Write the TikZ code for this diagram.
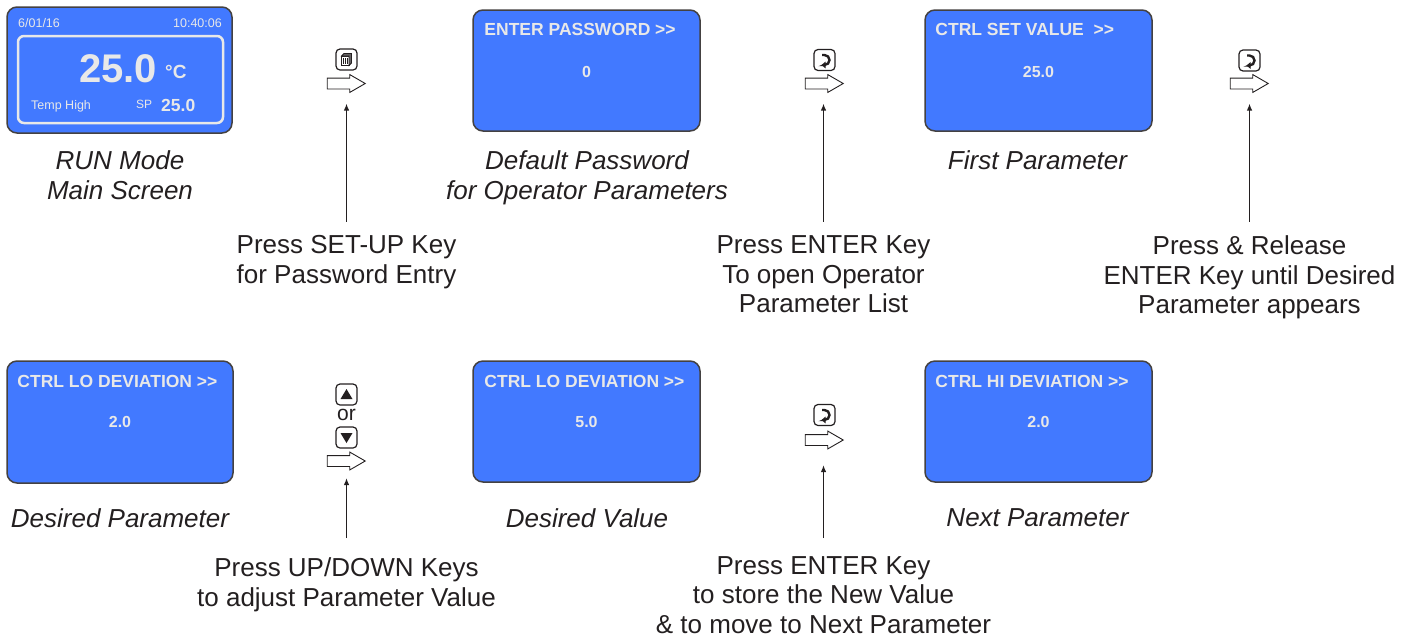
\documentclass[tikz,border=0pt]{standalone}
\usepackage{fontspec}
\setmainfont{Liberation Sans}
\usetikzlibrary{shapes.arrows,arrows.meta,positioning}

\definecolor{screenblue}{RGB}{66,121,255}
\definecolor{screenink}{RGB}{232,232,232}
\definecolor{ink}{RGB}{35,31,32}

\tikzset{
  screen/.style={draw=ink!85, line width=1.5pt, fill=screenblue, rounded corners=10pt,
    minimum width=227pt, minimum height=121pt, inner sep=0pt},
  screentitle/.style={text=screenink, font=\bfseries\fontsize{17.5}{20}\selectfont, anchor=west, inner sep=0pt},
  screenvalue/.style={text=screenink, font=\bfseries\fontsize{16}{18}\selectfont, inner sep=0pt},
  screensmall/.style={text=screenink, font=\fontsize{12.5}{14}\selectfont, inner sep=0pt},
  caption/.style={text=ink, font=\itshape\fontsize{26}{30}\selectfont, align=center, anchor=north, inner sep=0pt},
  hint/.style={text=ink, font=\fontsize{26}{29.7}\selectfont, align=center, anchor=north, inner sep=0pt},
  key/.style={draw=ink, line width=1.2pt, rounded corners=4pt, minimum size=21pt, inner sep=0pt},
  nextarrow/.style={single arrow, draw=ink, line width=0.9pt, fill=white, minimum height=38pt,
    inner xsep=0pt, inner ysep=5pt, single arrow head extend=3.5pt, single arrow tip angle=60},
  hintline/.style={draw=ink, line width=1.4pt, -{Latex[length=7pt,width=5.5pt]}},
  enterglyph/.pic={
    \draw[ink, line width=2.4pt, -{Triangle[length=4pt,width=6.5pt]}]
      (-2.5,-5) -- (0,-5) arc[start angle=-90, end angle=90, radius=5] -- (-3,5);
  },
  setupglyph/.pic={
    \draw[ink, line width=0.8pt, fill=white] (-5,-3.5) rectangle (2.5,6);
    \draw[ink, line width=0.8pt, fill=ink!70] (-5,-3.5) -- (-2.5,-6) -- (5,-6) -- (5,3.5) -- (2.5,6) -- (2.5,-3.5) -- cycle;
    \foreach \gx in {-3,-1.25,0.5}
      \draw[ink, line width=0.8pt] (\gx,-1.5) -- (\gx,4.5);
  },
  upglyph/.pic={\fill[ink] (-6,4.5) -- (6,4.5) -- (0,-5.5) -- cycle;},
  downglyph/.pic={\fill[ink] (-6,-4.5) -- (6,-4.5) -- (0,5.5) -- cycle;}
}

\begin{document}
\begin{tikzpicture}[x=1pt, y=-1pt]
\useasboundingbox (0,0) rectangle (1416,641);

% top row of screens
\node (run_screen) [screen, minimum width=225pt, minimum height=126pt] at (119.5,70) {};
\node (run_frame) [draw=screenink, line width=2.5pt, rounded corners=6pt,
  minimum width=205pt, minimum height=87pt] at (120.5,79.5) {};
\node (run_date) [screensmall, anchor=base west] at (18,27) {6/01/16};
\node (run_time) [screensmall, anchor=base east] at (222,27) {10:40:06};
\node (run_temp) [text=screenink, font=\bfseries\fontsize{40}{40}\selectfont, anchor=base west, inner sep=0pt] at (79,82) {25.0};
\node (run_unit) [text=screenink, font=\bfseries\fontsize{19}{20}\selectfont, anchor=base west, inner sep=0pt] at (165,78) {°C};
\node (run_status) [screensmall, anchor=base west] at (31,109.5) {Temp High};
\node (run_sp) [screensmall, font=\fontsize{12}{14}\selectfont, anchor=base west] at (136,108.7) {SP};
\node (run_spvalue) [text=screenink, font=\bfseries\fontsize{17.5}{18}\selectfont, anchor=base west, inner sep=0pt] at (161,111) {25.0};

\node (password_screen) [screen] at (586.5,70.5) {};
\node (password_title) [screentitle] at ([shift={(12,-41.5)}]password_screen.west) {ENTER PASSWORD >{}>};
\node (password_value) [screenvalue] at ([shift={(0,1)}]password_screen.center) {0};

\node (setvalue_screen) [screen] at (1038.5,70.5) {};
\node (setvalue_title) [screentitle] at ([shift={(11,-41.5)}]setvalue_screen.west) {CTRL SET VALUE~~>{}>};
\node (setvalue_value) [screenvalue] at ([shift={(0,1)}]setvalue_screen.center) {25.0};

% bottom row of screens
\node (lodev_screen) [screen, minimum width=226pt, minimum height=122pt] at (120,422) {};
\node (lodev_title) [screentitle] at ([shift={(11,-41)}]lodev_screen.west) {CTRL LO DEVIATION >{}>};
\node (lodev_value) [screenvalue] at ([shift={(0,0)}]lodev_screen.center) {2.0};

\node (newvalue_screen) [screen] at (586.5,421.5) {};
\node (newvalue_title) [screentitle] at ([shift={(12,-40.5)}]newvalue_screen.west) {CTRL LO DEVIATION >{}>};
\node (newvalue_value) [screenvalue] at ([shift={(0,0.5)}]newvalue_screen.center) {5.0};

\node (hidev_screen) [screen] at (1038.5,421.5) {};
\node (hidev_title) [screentitle] at ([shift={(11,-40.5)}]hidev_screen.west) {CTRL HI DEVIATION >{}>};
\node (hidev_value) [screenvalue] at ([shift={(0,0.5)}]hidev_screen.center) {2.0};

% captions
\node (run_caption) [caption] at (120,150.5) {RUN Mode\\Main Screen};
\node (password_caption) [caption] at (587,150.5) {Default Password\\for Operator Parameters};
\node (setvalue_caption) [caption] at (1037.5,150.5) {First Parameter};
\node (lodev_caption) [caption] at (120,508.5) {Desired Parameter};
\node (newvalue_caption) [caption] at (587,508.5) {Desired Value};
\node (hidev_caption) [caption] at (1037.5,508.5) {Next Parameter};

% keys and step arrows
\node (setup_key) [key] at (346.5,59.5) {};
\pic at (setup_key) {setupglyph};
\node (setup_arrow) [nextarrow] at (341.5,83.5) {};

\node (enter_key_a) [key] at (824.5,60) {};
\pic at (enter_key_a) {enterglyph};
\node (enter_arrow_a) [nextarrow] at (819.5,83.5) {};

\node (enter_key_b) [key] at (1249.5,60.5) {};
\pic at (enter_key_b) {enterglyph};
\node (enter_arrow_b) [nextarrow] at (1244.5,83.5) {};

\node (up_key) [key] at (346.5,394.5) {};
\pic at (up_key) {upglyph};
\node (or_text) [text=ink, font=\fontsize{21}{22}\selectfont, inner sep=0pt] at (346.5,414.5) {or};
\node (down_key) [key] at (346.5,437.5) {};
\pic at (down_key) {downglyph};
\node (updown_arrow) [nextarrow] at (341.5,461) {};

\node (enter_key_c) [key] at (824.5,415) {};
\pic at (enter_key_c) {enterglyph};
\node (enter_arrow_c) [nextarrow] at (819.5,440) {};

% hints
\node (setup_hint) [hint] at (346.5,235.5) {Press SET-UP Key\\for Password Entry};
\node (open_hint) [hint] at (823.5,235.5) {Press ENTER Key\\To open Operator\\Parameter List};
\node (release_hint) [hint] at (1249.5,235.5) {Press \& Release\\ENTER Key until Desired\\Parameter appears};
\node (updown_hint) [hint] at (346.5,557.5) {Press UP/DOWN Keys\\to adjust Parameter Value};
\node (store_hint) [hint] at (823.5,556) {Press ENTER Key\\to store the New Value\\\& to move to Next Parameter};

\draw[hintline, shorten <=14pt, shorten >=20pt] (setup_hint.north) -- (setup_hint.north |- setup_arrow.center);
\draw[hintline, shorten <=14pt, shorten >=20pt] (open_hint.north) -- (open_hint.north |- enter_arrow_a.center);
\draw[hintline, shorten <=14pt, shorten >=20pt] (release_hint.north) -- (release_hint.north |- enter_arrow_b.center);
\draw[hintline, shorten <=19.5pt, shorten >=17pt] (updown_hint.north) -- (updown_hint.north |- updown_arrow.center);
\draw[hintline, shorten <=18pt, shorten >=25pt] (store_hint.north) -- (store_hint.north |- enter_arrow_c.center);
\end{tikzpicture}
\end{document}
